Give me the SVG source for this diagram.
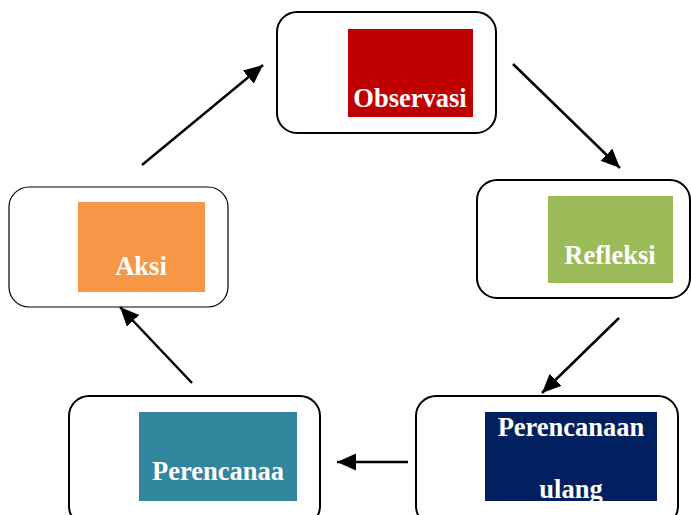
<svg xmlns="http://www.w3.org/2000/svg" width="691" height="515" viewBox="0 0 691 515">
<style>
.box{fill:#fff;stroke:#000;stroke-width:2}
.thin{stroke-width:1.2}
.lbl{font-family:"Liberation Serif","Times New Roman",serif;font-weight:bold;font-size:26.5px;fill:#fff;text-anchor:middle}
.arr{stroke:#000;stroke-width:2.5;fill:none;marker-end:url(#ah)}
</style>
<defs>
<marker id="ah" markerUnits="userSpaceOnUse" markerWidth="24" markerHeight="20" refX="19" refY="8.5" orient="auto">
<path d="M0,0 L19,8.5 L0,17 Z" fill="#000"/>
</marker>
<clipPath id="cu"><rect x="485" y="412" width="172" height="89"/></clipPath>
</defs>
<g id="observasi">
<rect class="box" x="277" y="12" width="219" height="121" rx="20"/>
<rect x="348" y="29" width="125" height="88" fill="#C00000"/>
<text class="lbl" x="410" y="107">Observasi</text>
</g>
<g id="refleksi">
<rect class="box" x="477" y="180" width="213" height="118" rx="20"/>
<rect x="548" y="196" width="125" height="87" fill="#9BBB59"/>
<text class="lbl" x="610" y="264">Refleksi</text>
</g>
<g id="aksi">
<rect class="box thin" x="9" y="187" width="219" height="120" rx="20"/>
<rect x="78" y="202" width="127" height="90" fill="#F79646"/>
<text class="lbl" x="141" y="275">Aksi</text>
</g>
<g id="perencanaa">
<rect class="box" x="69" y="396" width="251" height="130" rx="20"/>
<rect x="139" y="412" width="158" height="89" fill="#31859C"/>
<text class="lbl" x="218" y="480">Perencanaa</text>
</g>
<g id="perencanaan-ulang">
<rect class="box" x="416" y="396" width="262" height="130" rx="20"/>
<rect x="485" y="412" width="172" height="89" fill="#002060"/>
<g clip-path="url(#cu)">
<text class="lbl" x="571" y="436">Perencanaan</text>
<text class="lbl" x="571" y="498">ulang</text>
</g>
</g>
<g id="connectors">
<line class="arr" x1="142" y1="165" x2="263" y2="65"/>
<line class="arr" x1="513" y1="64" x2="620" y2="168"/>
<line class="arr" x1="619" y1="318" x2="542" y2="393"/>
<line class="arr" x1="408" y1="462" x2="337" y2="462"/>
<line class="arr" x1="192" y1="383" x2="120" y2="307"/>
</g>
</svg>
